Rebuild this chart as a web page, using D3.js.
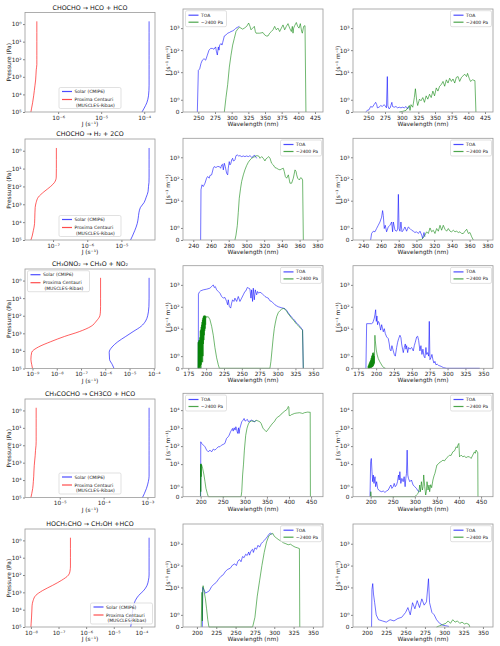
<!DOCTYPE html>
<html>
<head>
<meta charset="utf-8">
<script src="https://cdn.jsdelivr.net/npm/d3@7"></script>
<style>
body { margin: 0; background: #fff; }
svg { font-family: "DejaVu Sans", sans-serif; }
</style>
</head>
<body>
<svg id="chart" width="500" height="646"></svg>
<script>
// ---------- photolysis rate profiles (J in s^-1 vs pressure in Pa) ----------
const pressurePa = [0.7, 3, 10, 30, 60, 100, 200, 400, 800, 1500, 3000, 6000, 12000, 30000, 60000, 100000];

const solarJ1 = [1.3e-4,1.3e-4,1.3e-4,1.3e-4,1.3e-4,1.3e-4,1.3e-4,1.3e-4,1.3e-4,1.3e-4,1.3e-4,1.29e-4,1.26e-4,1.15e-4,1.0e-4,8.9e-5];
const proxJ1  = [3.2e-7,3.2e-7,3.2e-7,3.2e-7,3.2e-7,3.2e-7,3.2e-7,3.1e-7,3.05e-7,3.0e-7,2.9e-7,2.8e-7,2.7e-7,2.55e-7,2.42e-7,2.33e-7];
const solarJ2 = [6.45e-5,6.45e-5,6.45e-5,6.45e-5,6.4e-5,6.2e-5,6.0e-5,5.3e-5,4.6e-5,3.6e-5,3.25e-5,3.1e-5,2.9e-5,2.45e-5,2.1e-5,1.85e-5];
const proxJ2  = [1.25e-7,1.25e-7,1.25e-7,1.24e-7,1.1e-7,8.5e-8,5.4e-8,3.7e-8,3.2e-8,3.0e-8,2.95e-8,2.92e-8,2.88e-8,2.65e-8,2.45e-8,2.25e-8];
const solarJ3 = [6.4e-5,6.4e-5,6.4e-5,6.3e-5,6.0e-5,5.6e-5,4.6e-5,3.0e-5,1.4e-5,7.0e-6,3.3e-6,1.9e-6,1.45e-6,1.5e-6,1.95e-6,2.3e-6];
const proxJ3  = [6.4e-7,6.4e-7,6.4e-7,6.4e-7,6.3e-7,6.0e-7,4.3e-7,2.6e-7,8.5e-8,2.1e-8,5.6e-9,1.75e-9,9.3e-10,8.6e-10,9.3e-10,1.0e-9];
const solarJ4 = [1.09e-3,1.09e-3,1.09e-3,1.09e-3,1.09e-3,1.09e-3,1.09e-3,1.09e-3,1.09e-3,1.09e-3,1.09e-3,1.09e-3,1.05e-3,9.5e-4,8.5e-4,7.7e-4];
const proxJ4  = [2.9e-6,2.9e-6,2.9e-6,2.9e-6,2.9e-6,2.88e-6,2.8e-6,2.75e-6,2.68e-6,2.62e-6,2.58e-6,2.55e-6,2.5e-6,2.42e-6,2.3e-6,2.2e-6];
const solarJ5 = [1.9e-4,1.9e-4,1.9e-4,1.9e-4,1.9e-4,1.9e-4,1.8e-4,1.6e-4,1.2e-4,8e-5,6e-5,5.2e-5,4.8e-5,4.5e-5,4.3e-5,4.1e-5];
const proxJ5  = [2.7e-7,2.7e-7,2.7e-7,2.7e-7,2.6e-7,2.3e-7,1.3e-7,6e-8,2.6e-8,1.5e-8,1.2e-8,1.1e-8,1.08e-8,1.05e-8,1.02e-8,1.0e-8];

// ---------- spectrally resolved J, [wavelength nm, J] ----------
// row 1: CHOCHO -> HCO + HCO
const toaSun1 = [[248.5,0],[250,12],[252,14],[254,25],[256,35],[258.5,41],[261,35],[263.5,59],[266,100],[268.5,120],[271,120],[273.5,110],[276,140],[277,90],[278.5,60],[280,140],[281,100],[282,170],[284,200],[285.5,170],[286.5,220],[289,440],[291.5,490],[294,590],[296.5,630],[299,700],[301.5,750],[304,840],[306.5,1000],[309,1100],[311.5,1200]];
const lowSun1 = [[289,0],[291.5,1.2],[294,2.7],[296.5,17],[299,59],[301.5,170],[304,345],[306.5,700],[309,900],[311.5,1100],[314,1000],[316.5,900],[319,1000],[322.5,1200],[325.5,1700],[327.5,1200],[329,840],[331.5,1000],[334,1200],[335.5,700],[336.5,590],[342,590],[347,630],[349.5,490],[352,440],[354.5,440],[357,590],[359.5,700],[362,840],[364.5,1200],[367,840],[369.5,1000],[372,700],[374.5,1000],[377,1400],[379.5,840],[382,1200],[384.5,1600],[387,1000],[389.5,700],[391,1200],[392,590],[393,1000],[394.5,1300],[397,1800],[399,1200],[401,1000],[403,1600],[405,700],[406,590],[408,1200],[410,1300],[411.4,0]];
const toaProx1 = [[246,0],[248.5,0.13],[251,0.18],[253.5,0.45],[256,0.39],[258.6,0.6],[261,0.79],[262.6,0.6],[263.6,0.34],[266,0.39],[268.7,0.53],[271,0.45],[273.7,0.6],[275.2,0.5],[277.2,0.34],[278.5,6.3],[279.3,0.5],[281,0.26],[282.8,0.34],[283.8,0.53],[285.3,0.79],[286.3,0.45],[288.8,0.39],[291.4,0.45],[293.9,0.34],[296.4,0.39],[298.9,0.34],[301.4,0.39],[304,0.34],[306.5,0.45],[309,0.26],[311.5,0.45]];
const lowProx1 = [[296.4,0],[301.4,0.05],[306.5,0.13],[309,0.34],[311.5,0.53],[312.5,0.13],[314,0.6],[316.6,0.39],[319,1.18],[320.6,1.9],[322.6,0.92],[324,0.53],[326.7,1.05],[329,0.92],[331.7,1.18],[334.2,0.79],[336.7,1.32],[339.2,1.05],[341.8,1.45],[344.3,1.18],[346.8,1.71],[349.3,1.32],[351.9,1.97],[354.4,1.71],[356.9,2.29],[359.4,2.71],[362,3.79],[364.5,2.29],[367,4.49],[369.5,3.2],[372,5.3],[374.6,3.79],[377,4.9],[379.6,3.2],[382,5.8],[384.6,6.3],[387,3.79],[389.7,5.8],[392.2,6.9],[394.7,8.0],[397.3,6.3],[398.8,8.8],[401.3,5.3],[403.3,3.79],[406.3,4.49],[409.9,4.1],[411.4,0]];

// row 2: CHOCHO -> H2 + 2CO
const toaSun2 = [[248.3,0],[248.7,32],[249.8,54],[251.3,45],[253.2,64],[255,109],[256.2,130],[258,109],[258.8,145],[260.7,155],[262.6,313],[263.7,374],[265.6,336],[267.1,374],[269.4,374],[270.9,313],[272,446],[273.1,478],[273.9,263],[275,531],[276.1,374],[277.6,185],[278.8,155],[279.5,313],[280.6,633],[281.4,446],[282.5,531],[283.3,755],[284.4,900],[285.2,680],[285.9,680],[287,755],[288.2,1190],[289.7,1280],[291.2,1150],[292.7,1190],[294.6,1075],[296.5,1150],[298.3,1075],[300.2,1150],[302.1,1075],[304,1190],[305.9,1000],[307.7,1075],[308.9,1280],[310.4,1075],[311.5,900]];
const lowSun2 = [[287,0],[288.2,0.41],[289.7,1.21],[290.8,2.9],[291.9,13],[293.4,38],[294.6,77],[296.5,155],[298.3,263],[300.2,415],[302.1,590],[304,755],[305.9,900],[307.7,1000],[309.6,1075],[311.5,1190],[313.8,1150],[315.3,900],[317.2,1075],[319,900],[320.9,680],[322,840],[323.6,950],[325.1,1075],[326.6,900],[328.4,531],[330.3,446],[332.2,336],[334.1,313],[336,280],[337.9,263],[339.7,290],[341.6,313],[342.7,220],[343.9,130],[345.4,109],[347.3,155],[349.1,64],[351,64],[352.9,109],[354.8,263],[356,220],[356.7,155],[357.8,109],[359.7,90],[361.2,115],[362.3,109],[363.4,90],[364.2,0]];
const toaProx2 = [[248.3,0],[249.4,0.54],[251.3,0.73],[253.2,0.68],[255,0.95],[256.9,1.22],[258.8,1.49],[260.7,1.89],[261.8,3.5],[262.6,2.07],[263.7,0.95],[264.8,1.22],[266.3,0.68],[268.2,1.08],[270.1,1.22],[272,1.49],[273.1,0.68],[273.9,1.49],[275.8,0.81],[277.6,0.73],[278.8,0.9],[279.6,19.6],[280.4,0.95],[281.4,0.73],[282.5,1.49],[283.7,0.68],[285.2,0.81],[287,1.08],[288.9,0.73],[290.8,1.08],[292.7,0.95],[294.6,0.81],[296.5,0.73],[298.3,0.62],[300.2,0.68],[302.1,0.54],[304,0.73],[305.9,0.41],[307,0.14],[308.5,0.62],[309.6,0.27]];
const lowProx2 = [[302.1,0],[305.9,0.05],[307.7,0.19],[309.6,0.41],[311.5,0.68],[313.4,0.54],[315.3,1.0],[317.2,0.68],[319,0.81],[320.9,0.54],[322.8,0.95],[324.7,0.73],[326.6,1.22],[328.4,0.81],[330.3,1.22],[332.2,0.89],[334.1,0.73],[336,0.95],[337.9,0.73],[339.7,0.68],[341.6,0.81],[343.5,0.68],[345.4,0.73],[347.3,0.62],[349.1,0.68],[351,0.54],[352.9,0.54],[354.8,0.73],[356.7,0.89],[358.6,0.54],[360.4,0.62],[362.3,0.27],[364.2,0]];

// row 3: CH3ONO2 -> CH3O + NO2
const toaSun3 = [[189,0],[189.2,377],[190.4,464],[192.3,533],[196,593],[200.7,636],[205.3,705],[207.7,840],[210,1000],[211.4,757],[212.8,840],[214.7,593],[217,498],[219.3,418],[221.7,295],[224,248],[226.3,266],[228.7,175],[230.1,123],[231,208],[232.4,104],[234.3,87],[235.7,147],[237,208],[238.9,175],[240.3,248],[242.7,175],[245,295],[247.3,175],[249.7,248],[252,351],[254.3,498],[255.7,533],[257.6,757],[259.5,705],[261.3,658],[262.7,248],[263.7,593],[265,175],[266,705],[267.4,208],[268.8,593],[270.7,351],[272,498],[273.5,418],[275.3,464],[277.7,418],[280,351],[282.3,295],[284.7,266],[287,248],[289.3,187],[291.7,175],[294,147],[296.3,123],[298.7,110],[301,100],[303.3,95],[305.7,90],[308,86],[310.3,82],[312.7,68],[315,52],[317.3,42],[319.7,33],[322,28],[324.3,23],[326.7,18],[329,15],[331.3,12.8],[333.7,10],[335,9],[336,0]];
const lowSun3 = [[188.5,0],[188.8,2.4],[189.1,0],[189.4,2.6],[189.7,0],[190,3],[190.3,0.1],[190.6,3],[190.9,0],[191.2,4],[191.5,0],[191.8,8],[192.1,0.2],[192.4,9],[192.7,0],[193,12],[193.3,0.3],[193.6,15],[193.9,0.5],[194.2,20],[194.5,1],[194.8,25],[195.1,0.5],[195.4,30],[195.7,1],[196,35],[196.3,2],[196.6,38],[196.9,3],[197.2,40],[197.5,5],[197.8,38],[198.1,8],[198.4,40],[198.7,10],[199,36],[199.3,15],[199.6,38],[200,33],[201,34],[203,35],[205.3,26],[207.7,12.8],[210,5],[212.3,1.7],[214.7,0.86],[217,0.29],[218.5,0],[289.3,0],[290.7,0.57],[292.1,1.43],[294,4.2],[295.4,10],[296.8,18],[298.7,35],[301,54],[303.3,66],[305.7,78],[308,84],[310.3,78],[312.7,62],[315,47],[317.3,38],[319.7,30],[322,25],[324.3,20],[326.7,16],[329,13.5],[331.3,11.5],[333.7,9.2],[335,8.3],[336,0]];
const toaProx3 = [[185.7,0],[186.7,16.9],[193.7,16.9],[195.1,18.1],[196,21.5],[197.4,30],[198.3,43],[199.3,73],[200.2,21.5],[201.1,38],[202,15.2],[203,21.5],[204.4,18.1],[205.3,12.8],[206.3,8.6],[207.7,15.2],[209,10],[210,7.2],[211.4,10],[212.8,6.0],[214.7,4.2],[217,3.5],[218.4,2.0],[219.3,1.57],[220.7,1.43],[222.1,1.86],[224,1.43],[225.4,1.14],[226.8,1.0],[228.7,1.71],[230.1,2.4],[231.5,3.5],[233.3,5.0],[234.7,3.9],[235.7,2.0],[237,1.57],[238,1.29],[239.4,1.71],[240.8,2.0],[241.7,1.57],[242.7,1.86],[244.1,1.29],[245.5,1.71],[247.3,1.57],[249.7,1.71],[252,1.43],[253.4,1.86],[254.8,2.4],[256.7,4.2],[258.1,4.5],[259.5,2.9],[261.3,1.43],[262.7,1.86],[264.1,1.14],[265.5,1.57],[266.9,1.0],[268.3,0.86],[269.7,1.71],[270.7,1.14],[272.1,1.29],[273.5,1.0],[274.4,21.5],[275.3,0.71],[276.7,0.86],[278.1,1.14],[279.5,0.71],[280.9,0.43],[282.3,0.57],[283.7,0.29],[285.6,0.34],[287.5,0.23],[289.3,0.2],[291.7,0.14],[294,0.06],[298.7,0],[345,0]];
const lowProx3 = [[188.5,0],[188.9,0.2],[189.2,0],[189.6,0.3],[189.9,0],[190.3,0.4],[190.6,0],[191,0.5],[191.3,0.02],[191.7,0.6],[192,0.03],[192.4,0.7],[192.7,0.05],[193.1,0.85],[193.4,0.05],[193.8,1.0],[194.1,0.1],[194.5,1.1],[194.8,0.1],[195.2,1.25],[195.5,0.15],[195.9,1.3],[196.2,0.2],[196.6,1.2],[196.9,0.3],[197.3,1.0],[197.6,0.4],[198,2.5],[198.3,5.0],[198.7,3.0],[199.3,2.0],[200.2,1.5],[201.5,1.1],[203,0.8],[205,0.55],[207,0.35],[209,0.15],[211,0.05],[213,0]];

// row 4: CH3COCHO -> CH3CO + HCO
const toaSun4 = [[200,0],[200.2,174],[202.3,141],[206,114],[209.8,92],[213.5,60],[217.3,48],[221,60],[224.8,48],[228.5,68],[232.3,60],[236,74],[239.8,92],[243.5,92],[247.3,114],[251,124],[254.8,141],[258.6,267],[262.3,330],[264.6,408],[267.6,625],[269.8,774],[272,958],[273.6,681],[275.8,1040],[278,774],[279.6,1190],[281,958],[282.6,625],[284,506],[285.6,1040],[287,506],[288.6,958],[290.8,1470],[293,2250],[296,2780],[298.3,3440],[300.6,2450],[303.6,2780],[305.9,3030],[308.1,2250],[311.1,2450],[314.9,2780],[318.6,2450],[322.4,2250],[326.1,2780]];
const lowSun4 = [[199.5,0],[200,10],[200.4,0.5],[200.8,10.5],[201.3,2],[201.7,9.5],[202.3,8.9],[204.5,5.8],[207.5,2.5],[209.8,1.5],[212,0.83],[215,0.33],[217.3,0],[291.5,0],[293,0.5],[295,2.5],[297,10],[299,60],[302,400],[305,1000],[308,1700],[311,2200],[315,2500],[319,2450],[322,2300],[326,2700],[330,2500],[334,2250],[337,1800],[341,1000],[345,780],[348.6,630],[352,800],[356,1100],[360,1500],[364,2000],[367,2300],[371,3440],[375,4200],[379,4800],[382,6000],[386,7000],[390,9000],[394,10000],[397,13000],[398.5,16000],[399.7,14000],[400.5,5000],[403,5000],[405,5500],[409,6000],[412,6500],[416,6800],[420,7000],[424,7200],[428,6800],[431,6500],[435,7200],[439,7500],[442.5,7800],[446,7600],[448,7700],[448.5,0]];
const toaProx4 = [[198.5,0],[200,13.5],[201.5,20.6],[203,3.8],[204.5,1.5],[206,2.47],[207.5,1.33],[209.8,2.0],[211.3,1.0],[213.5,1.5],[215.8,0.83],[218,0.67],[221,0.57],[224.8,0.5],[228.5,0.57],[232.3,0.43],[236,0.57],[239.8,0.67],[243.5,1.0],[245.8,1.17],[248,0.83],[251,1.0],[253.3,1.33],[255.6,1.0],[258.6,1.17],[260.8,1.5],[263,2.47],[264.6,1.67],[266.1,3.8],[268.3,1.33],[270.6,1.83],[273.6,1.5],[275.8,2.0],[278,1.0],[279.6,1.83],[281.1,3.06],[282.6,60],[284.1,2.47],[285.6,1.83],[288.6,1.5],[292.3,1.67],[296.1,1.17],[299.8,1.0],[303.6,0.83],[307.4,0.57],[311.1,0.5]];
const lowProx4 = [[199.5,0],[200.3,0.5],[201.5,0],[300,0],[303.6,0.17],[307.4,0.33],[309.7,0.67],[311.1,1.17],[312.6,0.5],[314.9,1.5],[317.1,0.67],[318.6,1.0],[320.1,2.5],[322.4,1.0],[324.6,0.17],[326.1,0.5],[327.6,1.5],[329.9,0.67],[332.1,1.17],[333.6,0.5],[335.9,1.2],[338.1,0.9],[341,1.67],[343.4,2.2],[345.6,3.1],[348,5.5],[350,8.9],[353,10],[356,12.4],[360,14],[363.7,16.7],[367,15],[371,20.6],[375,25.5],[378.7,31.6],[382,30],[386,48],[390,55],[393.7,92],[396,80],[397.4,114],[399.7,141],[400.5,60],[401.2,25.5],[405,31.6],[408.7,25.5],[412,28],[416,23],[420,26],[423.7,25.5],[427.5,20.6],[431.2,31.6],[435,48],[437,40],[438.7,60],[441,48],[442.5,45],[443,0]];

// row 5: HOCH2CHO -> CH2OH + HCO
const toaSun5 = [[207,0],[207.5,10],[209,8],[211,5.5],[213,6],[216,7],[219,11],[222,14],[225,17],[228,24],[231,32],[234,38],[237,55],[240,68],[243,75],[246,105],[249,120],[251,100],[253,160],[255,190],[257,150],[259,260],[261,230],[263,330],[265,290],[267,420],[268,300],[270,480],[272,560],[273,400],[275,650],[277,560],[279,850],[281,700],[283,1000],[285,1200],[287,1400],[289,1700],[291,2100],[293,2700],[295,3100],[297,2600]];
const lowSun5 = [[205.5,0],[206.5,6],[207,0.5],[207.5,9],[208,12],[209.5,6],[211,3],[212.5,1.5],[214,0.6],[215.5,0],[272,0],[275,0.8],[278,4],[281,20],[284,100],[287,400],[290,1200],[293,2300],[296,2800],[298,3000],[300,2200],[303,1800],[306,1500],[309,1300],[312,1100],[315,1000],[318,900],[321,950],[324,800],[327,700],[330,650],[332.5,600],[333,0]];
const toaProx5 = [[206,0],[206.5,8],[207.5,15],[208.5,5],[210,2],[212,1],[215,0.6],[220,0.5],[225,0.4],[230,0.6],[235,0.5],[240,0.7],[245,0.8],[250,1.2],[253,1.6],[256,1.0],[259,2.0],[262,1.5],[265,2.5],[268,1.6],[271,3.0],[274,1.8],[277,2.2],[279.6,25],[281,2.0],[284,1.2],[287,1.0],[290,0.6],[294,0.3],[298,0.15],[302,0.1],[306,0.05]];
const lowProx5 = [[290,0],[294,0.1],[298,0.2],[302,0.3],[305,0.5],[308,0.3],[311,0.6],[314,0.4],[317,0.5],[320,0.3],[323,0.4],[326,0.25],[329,0.3],[332,0.2],[333,0]];

const titles = ['CHOCHO \u2192 HCO + HCO', 'CHOCHO \u2192 H\u2082 + 2CO', 'CH\u2083ONO\u2082 \u2192 CH\u2083O + NO\u2082',
                'CH\u2083COCHO \u2192 CH3CO + HCO', 'HOCH\u2082CHO \u2192 CH\u2082OH +HCO'];

// layout of each row (panel tops/bottoms, axis limits, legend spots)
const rows = [
  { solar: solarJ1, prox: proxJ1, toaSun: toaSun1, lowSun: lowSun1, toaProx: toaProx1, lowProx: lowProx1,
    lTop: 12.5, lBot: 112, sTop: 9, sBot: 112, xlim: [227, 437], xstep: 25, ytop: 7400, legL: 'lc', legM: 'ul', legR: 'ur' },
  { solar: solarJ2, prox: proxJ2, toaSun: toaSun2, lowSun: lowSun2, toaProx: toaProx2, lowProx: lowProx2,
    lTop: 139, lBot: 240, sTop: 138.3, sBot: 240, xlim: [228.4, 386.4], xstep: 20, ytop: 7500, legL: 'lc', legM: 'ur', legR: 'ur' },
  { solar: solarJ3, prox: proxJ3, toaSun: toaSun3, lowSun: lowSun3, toaProx: toaProx3, lowProx: lowProx3,
    lTop: 269, lBot: 368.5, sTop: 265.7, sBot: 368.3, xlim: [167.6, 363.6], xstep: 25, ytop: 7500, legL: 'ul', legM: 'ur', legR: 'ur' },
  { solar: solarJ4, prox: proxJ4, toaSun: toaSun4, lowSun: lowSun4, toaProx: toaProx4, lowProx: lowProx4,
    lTop: 399, lBot: 497.5, sTop: 393.3, sBot: 496.7, xlim: [160, 477], xstep: 50, ytop: 86000, legL: 'lc', legM: 'ul', legR: 'ur' },
  { solar: solarJ5, prox: proxJ5, toaSun: toaSun5, lowSun: lowSun5, toaProx: toaProx5, lowProx: lowProx5,
    lTop: 529, lBot: 627, sTop: 524, sBot: 627, xlim: [182, 363], xstep: 25, ytop: 8000, legL: 'lr', legM: 'ur', legR: 'ur' }
];

const colLeft = [25, 155];
const colMid = [183, 323];
const colRight = [353, 493];

const blue = '#0000ff', red = '#ff0000', green = '#008000';
const lineAlpha = 0.7;

const svg = d3.select('#chart');

// superscript helpers
const SUP = { '0': '\u2070', '1': '\u00b9', '2': '\u00b2', '3': '\u00b3', '4': '\u2074', '5': '\u2075',
              '6': '\u2076', '7': '\u2077', '8': '\u2078', '9': '\u2079', '-': '\u207b' };
const pow10Label = e => '10' + String(e).split('').map(c => SUP[c]).join('');

// matplotlib symlog (linthresh 2, linscale 1)
const LINTHRESH = 2, LINSCALE = 1 / (1 - 1 / 10);
const symT = v => v <= LINTHRESH ? v / LINTHRESH * LINSCALE : LINSCALE + Math.log10(v / LINTHRESH);

function styleAxis(g) {
    g.select('.domain').remove();
    g.selectAll('line').attr('stroke', '#333').attr('stroke-width', 0.6);
    g.selectAll('text').attr('font-size', 5.8).attr('fill', '#222').attr('font-family', '"DejaVu Sans", sans-serif');
}

function drawFrame(x0, x1, y0, y1) {
    svg.append('rect')
        .attr('x', x0).attr('y', y0)
        .attr('width', x1 - x0).attr('height', y1 - y0)
        .attr('fill', 'none')
        .attr('stroke', '#999')
        .attr('stroke-width', 0.8);
}

function drawLegend(loc, box, items) {
    const [x0, x1, y0, y1] = box;
    const w = items.w, h = items.h;
    let lx, ly;
    if (loc === 'ul') { lx = x0 + 2.5; ly = y0 + 1.7; }
    else if (loc === 'ur') { lx = x1 - w - 1.5; ly = y0 + 1.7; }
    else if (loc === 'lc') { lx = (x0 + x1) / 2 - w / 2; ly = y1 - h - 3.5; }
    else { lx = x1 - w - 2.5; ly = y1 - h - 3; }
    const g = svg.append('g').attr('transform', `translate(${lx},${ly})`);
    g.append('rect')
        .attr('width', w).attr('height', h)
        .attr('rx', 1.5)
        .attr('fill', '#fff').attr('fill-opacity', 0.8)
        .attr('stroke', '#ccc').attr('stroke-width', 0.6);
    items.entries.forEach(d => {
        g.append('line')
            .attr('x1', 3).attr('x2', 13)
            .attr('y1', d.y).attr('y2', d.y)
            .attr('stroke', d.color).attr('stroke-opacity', lineAlpha)
            .attr('stroke-width', d.lw || 1);
        d.text.forEach((t, i) => {
            g.append('text')
                .attr('x', 15.5).attr('y', d.y + 1.6 + i * 5.4)
                .attr('font-size', 4.5)
                .attr('fill', '#222')
                .attr('xml:space', 'preserve')
                .text(t);
        });
    });
}

function drawProfile(r, i) {
    const all = r.solar.concat(r.prox);
    const lo = Math.log10(d3.min(all)), hi = Math.log10(d3.max(all));
    const pad = (hi - lo) * 0.05;
    const x = d3.scaleLog().domain([10 ** (lo - pad), 10 ** (hi + pad)]).range(colLeft);
    const y = d3.scaleLog().domain([1e5, 0.22]).range([r.lBot, r.lTop]);

    const xExp = d3.range(Math.ceil(lo - pad), Math.floor(hi + pad) + 1);
    svg.append('g')
        .attr('transform', `translate(0,${r.lBot})`)
        .call(d3.axisBottom(x).tickValues(xExp.map(e => 10 ** e)).tickSize(2).tickPadding(1.5)
            .tickFormat(d => pow10Label(Math.round(Math.log10(d)))))
        .call(styleAxis);
    svg.append('g')
        .attr('transform', `translate(${colLeft[0]},0)`)
        .call(d3.axisLeft(y).tickValues([1, 10, 100, 1000, 1e4, 1e5]).tickSize(2).tickPadding(1.5)
            .tickFormat(d => pow10Label(Math.round(Math.log10(d)))))
        .call(styleAxis);

    const line = d3.line()
        .x(d => x(d[1]))
        .y(d => y(d[0]))
        .curve(d3.curveMonotoneY);
    [[r.solar, blue], [r.prox, red]].forEach(([vals, c]) => {
        svg.append('path')
            .datum(pressurePa.map((p, k) => [p, vals[k]]))
            .attr('fill', 'none')
            .attr('stroke', c)
            .attr('stroke-opacity', lineAlpha)
            .attr('stroke-width', 0.9)
            .attr('d', line);
    });
    drawFrame(colLeft[0], colLeft[1], r.lTop, r.lBot);

    // title and labels
    svg.append('text')
        .attr('x', (colLeft[0] + colLeft[1]) / 2).attr('y', r.lTop - 3)
        .attr('text-anchor', 'middle')
        .attr('font-size', 6.3)
        .attr('fill', '#111')
        .text(titles[i]);
    svg.append('text')
        .attr('x', (colLeft[0] + colLeft[1]) / 2).attr('y', r.lBot + 14)
        .attr('text-anchor', 'middle')
        .attr('font-size', 5.9)
        .attr('fill', '#222')
        .text('J (s\u207b\u00b9)');
    svg.append('text')
        .attr('transform', `translate(11,${(r.lTop + r.lBot) / 2}) rotate(-90)`)
        .attr('text-anchor', 'middle')
        .attr('font-size', 5.9)
        .attr('fill', '#222')
        .text('Pressure (Pa)');

    drawLegend(r.legL, [colLeft[0], colLeft[1], r.lTop, r.lBot], {
        w: 62, h: 21,
        entries: [
            { color: blue, y: 4, text: ['Solar (CMIP6)'], lw: 1.2 },
            { color: red, y: 12, text: ['Proxima Centauri', ' (MUSCLES-Ribas)'], lw: 1.2 }
        ]
    });
}

function drawSpectrum(r, col, toa, low, loc) {
    const x = d3.scaleLinear().domain(r.xlim).range(col);
    const yT = d3.scaleLinear().domain([0, symT(r.ytop)]).range([r.sBot, r.sTop]);
    const y = v => yT(symT(v));

    const xt = d3.range(Math.ceil(r.xlim[0] / r.xstep) * r.xstep, r.xlim[1], r.xstep);
    svg.append('g')
        .attr('transform', `translate(0,${r.sBot})`)
        .call(d3.axisBottom(x).tickValues(xt).tickSize(2).tickPadding(1.5).tickFormat(d3.format('d')))
        .call(styleAxis);

    const expMax = Math.floor(Math.log10(r.ytop));
    const yVals = [0].concat(d3.range(0, expMax + 1).map(e => 10 ** e));
    svg.append('g')
        .attr('transform', `translate(${col[0]},0)`)
        .call(d3.axisLeft(yT).tickValues(yVals.map(symT)).tickSize(2).tickPadding(1.5)
            .tickFormat((d, k) => k === 0 ? '0' : pow10Label(k - 1)))
        .call(styleAxis);

    const line = d3.line().x(d => x(d[0])).y(d => y(d[1]));
    [[toa, blue], [low, green]].forEach(([vals, c]) => {
        svg.append('path')
            .datum(vals)
            .attr('fill', 'none')
            .attr('stroke', c)
            .attr('stroke-opacity', lineAlpha)
            .attr('stroke-width', 0.8)
            .attr('stroke-linejoin', 'round')
            .attr('d', line);
    });
    drawFrame(col[0], col[1], r.sTop, r.sBot);

    svg.append('text')
        .attr('x', (col[0] + col[1]) / 2).attr('y', r.sBot + 14)
        .attr('text-anchor', 'middle')
        .attr('font-size', 5.9)
        .attr('fill', '#222')
        .text('Wavelength (nm)');
    svg.append('text')
        .attr('transform', `translate(${col[0] - 13},${(r.sTop + r.sBot) / 2}) rotate(-90)`)
        .attr('text-anchor', 'middle')
        .attr('font-size', 5.9)
        .attr('fill', '#222')
        .text('J (s\u207b\u00b9 m\u207b\u00b9)');

    drawLegend(loc, [col[0], col[1], r.sTop, r.sBot], {
        w: 41, h: 16,
        entries: [
            { color: blue, y: 4.5, text: ['TOA'], lw: 1.2 },
            { color: green, y: 11.5, text: ['~2400 Pa'], lw: 1.2 }
        ]
    });
}

rows.forEach((r, i) => {
    drawProfile(r, i);
    drawSpectrum(r, colMid, r.toaSun, r.lowSun, r.legM);
    drawSpectrum(r, colRight, r.toaProx, r.lowProx, r.legR);
});
</script>
</body>
</html>
